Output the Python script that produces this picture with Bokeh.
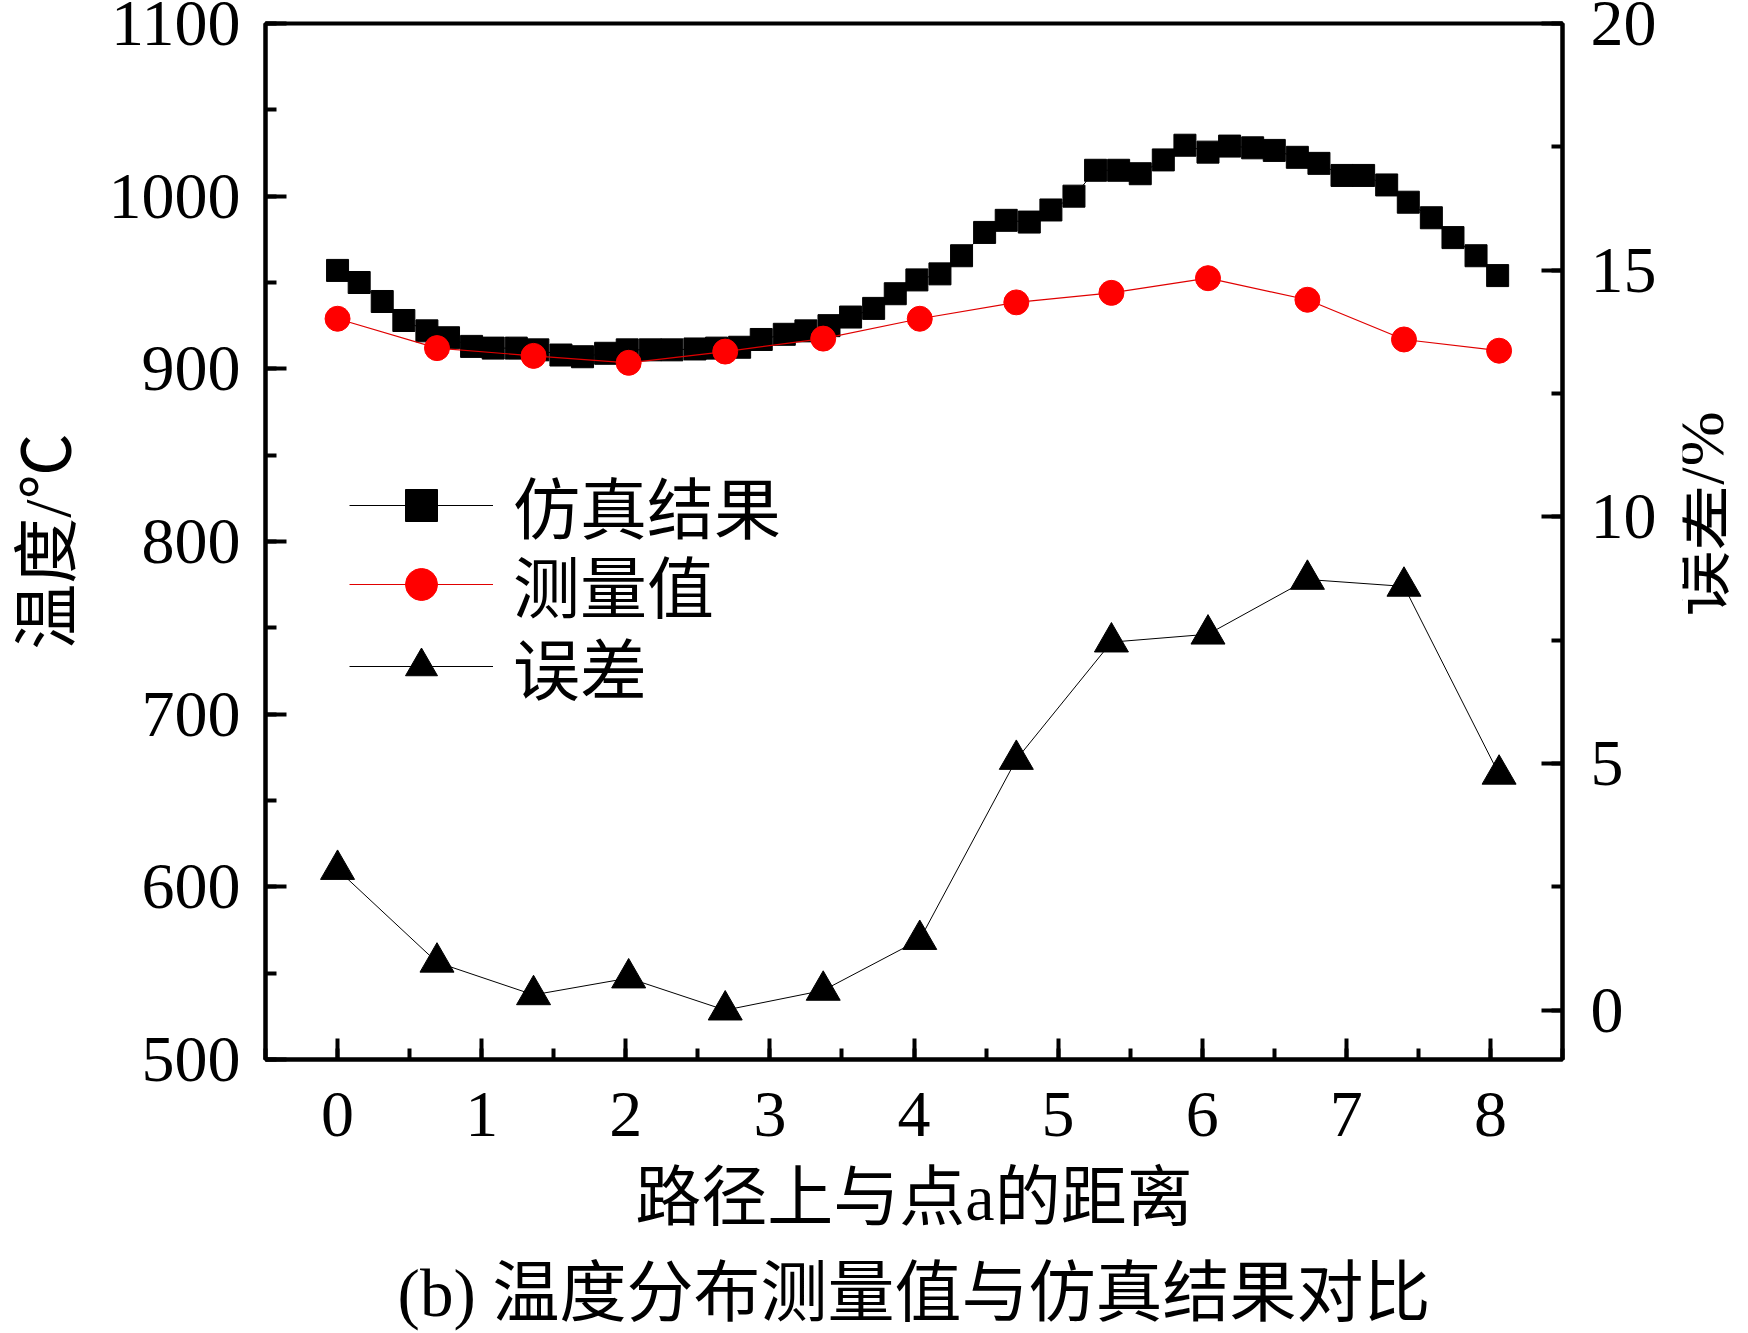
from math import pi
from bokeh.plotting import figure
from bokeh.models import Range1d, LinearAxis, SingleIntervalTicker, Legend, LegendItem, Title
from bokeh.layouts import row
from bokeh.core.properties import value
from bokeh.embed import file_html
from bokeh.resources import INLINE

# ---------------- data ----------------
sim_x = [0.00, 0.15, 0.31, 0.46, 0.62, 0.77, 0.93, 1.08, 1.24, 1.39, 1.55, 1.70, 1.86,
         2.01, 2.17, 2.32, 2.48, 2.63, 2.79, 2.94, 3.10, 3.25, 3.41, 3.56, 3.72, 3.87,
         4.02, 4.18, 4.33, 4.49, 4.64, 4.80, 4.95, 5.11, 5.26, 5.42, 5.57, 5.73, 5.88,
         6.04, 6.19, 6.35, 6.50, 6.66, 6.81, 6.97, 7.12, 7.28, 7.43, 7.59, 7.74, 7.90, 8.05]
sim_t = [957, 950, 939, 928, 922, 918, 913, 912, 912, 911, 908, 907, 909,
         911, 911, 911, 911.5, 912, 912.5, 917, 920, 922, 925, 930, 935, 943.5,
         951.5, 955, 965.5, 979, 986, 985, 992, 1000, 1015, 1015, 1013, 1021, 1029.5,
         1025.5, 1029, 1028, 1026.5, 1022.5, 1019, 1012, 1012, 1006.5, 996.5, 987.5, 976, 965.5, 954]

meas_x = [0.00, 0.69, 1.36, 2.02, 2.69, 3.37, 4.04, 4.71, 5.37, 6.04, 6.73, 7.40, 8.06]
meas_t = [929, 912, 907.5, 903.5, 910, 917.5, 929, 938.5, 944, 952.5, 940, 917, 910.5]
err_v = [2.85, 0.97, 0.31, 0.65, 0.0, 0.40, 1.43, 5.08, 7.46, 7.62, 8.73, 8.59, 4.78]

x_label = "路径上与点a的距离"
y_label = "温度/℃"
y2_label = "误差/%"
caption = "(b) 温度分布测量值与仿真结果对比"
legend_names = ["仿真结果", "测量值", "误差"]

SERIF = "Liberation Serif, Noto Sans CJK SC"

p = figure(frame_width=1297, frame_height=1036,
           min_border_left=265, min_border_right=120, min_border_top=23, min_border_bottom=40,
           x_range=Range1d(-0.5, 8.5), y_range=Range1d(500, 1100),
           output_backend="svg", toolbar_location=None, tools="")
p.extra_y_ranges = {"err": Range1d(-1, 20)}
p.xgrid.visible = False
p.ygrid.visible = False
p.outline_line_color = "black"
p.outline_line_width = 4
p.background_fill_color = "white"
p.border_fill_color = "white"

def style_axis(ax, ticker, standoff, label, label_standoff):
    ax.ticker = ticker
    ax.axis_line_width = 4
    ax.axis_line_color = "black"
    ax.major_tick_line_width = 4
    ax.minor_tick_line_width = 4
    ax.major_tick_in = 21
    ax.major_tick_out = 0
    ax.minor_tick_in = 11
    ax.minor_tick_out = 0
    ax.major_label_text_font = "Liberation Serif"
    ax.major_label_text_font_size = "66px"
    ax.major_label_text_color = "black"
    ax.major_label_standoff = standoff
    if label:
        ax.axis_label = label
        ax.axis_label_text_font = SERIF
        ax.axis_label_text_font_size = "66px"
        ax.axis_label_text_font_style = "normal"
        ax.axis_label_text_color = "black"
        ax.axis_label_standoff = label_standoff

style_axis(p.xaxis[0], SingleIntervalTicker(interval=1, num_minor_ticks=2), 33, x_label, 22)
style_axis(p.yaxis[0], SingleIntervalTicker(interval=100, num_minor_ticks=2), 25, y_label, 22)
yax2 = LinearAxis(y_range_name="err")
style_axis(yax2, SingleIntervalTicker(interval=5, num_minor_ticks=2), 28, None, 0)
p.add_layout(yax2, "right")

p.add_layout(Title(text=caption, align="center", text_font=SERIF, text_font_size="67px",
                   text_font_style="normal", text_color="black", standoff=34), "below")

# ---------------- glyphs ----------------
l1 = p.line(sim_x, sim_t, line_color="black", line_width=1)
s1 = p.scatter(sim_x, sim_t, marker="square", size=22, fill_color="black", line_color="black")
l2 = p.line(meas_x, meas_t, line_color="#e00000", line_width=1.2)
s2 = p.scatter(meas_x, meas_t, marker="circle", size=25, fill_color="#ff0000", line_color="#ff0000")
l3 = p.line(meas_x, err_v, line_color="black", line_width=1, y_range_name="err")
s3 = p.scatter(meas_x, err_v, marker="triangle", size=34, fill_color="black", line_color="black",
               y_range_name="err")

# one legend box per entry so that the row pitch matches the original
legend_rows = [(legend_names[0], [l1, s1], 506),
               (legend_names[1], [l2, s2], 427),
               (legend_names[2], [l3, s3], 345)]
for name, rends, ypos in legend_rows:
    lg = Legend(items=[LegendItem(label=name, renderers=rends)],
                location=(84, ypos), padding=0, margin=0, spacing=0,
                glyph_width=144, glyph_height=80, label_height=80, label_standoff=20,
                label_text_font=SERIF, label_text_font_size="67px", label_text_color="black",
                border_line_color=None, background_fill_alpha=0)
    p.add_layout(lg, "center")

# ---------------- right-hand axis title (reads bottom to top) ----------------
pr = figure(width=58, height=1080, min_border=0, x_range=Range1d(0, 58), y_range=Range1d(1080, 0),
            output_backend="svg", toolbar_location=None, tools="")
pr.axis.visible = False
pr.grid.visible = False
pr.outline_line_color = None
pr.background_fill_color = "white"
pr.border_fill_color = "white"
pr.text(x=[18], y=[688], text=[y2_label], angle=pi / 2, text_align="center",
        text_baseline="middle", text_font=value(SERIF), text_font_size="66px", text_color="black")

layout = row(p, pr)
open("out.html", "w").write(file_html(layout, INLINE))
